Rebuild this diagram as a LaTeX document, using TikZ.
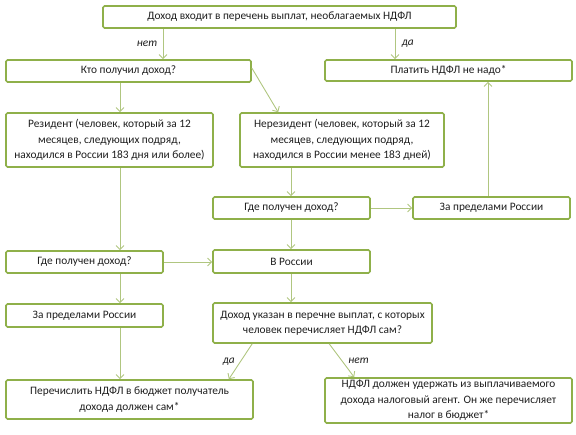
\documentclass[tikz,border=0pt]{standalone}
\usepackage{fontspec}
\setmainfont{Carlito}
\usetikzlibrary{arrows.meta}
\definecolor{boxgreen}{RGB}{143,176,74}
\definecolor{arrgreen}{RGB}{176,198,128}
\definecolor{txtgray}{RGB}{30,30,30}
\begin{document}
\begin{tikzpicture}[x=1bp,y=-1bp,>={Straight Barb[length=4bp,width=8bp]},
  box/.style={draw=boxgreen,line width=1.6bp,rounded corners=1.5bp,inner sep=0pt,
    align=center,text=txtgray,font=\fontsize{11.4}{15.5}\selectfont},
  arr/.style={->,draw=arrgreen,line width=0.9bp},
  lbl/.style={font=\fontsize{11.4}{13}\selectfont\itshape,text=txtgray}]
  \useasboundingbox (0,0) rectangle (576,435);
  % columns of the vertical connectors
  \coordinate (colA) at (120,0);
  \coordinate (colB) at (163,0);
  \coordinate (colC) at (291,0);
  \coordinate (colD) at (395,0);
  \coordinate (colE) at (488,0);
  % boxes
  \node[box,minimum width=353bp,minimum height=22bp] (top) at (279.5,17) {Доход входит в перечень выплат, необлагаемых НДФЛ};
  \node[box,minimum width=245bp,minimum height=22bp] (who) at (128.5,71) {Кто получил доход?};
  \node[box,minimum width=247bp,minimum height=21bp] (nopay) at (448.5,70.5) {Платить НДФЛ не надо*};
  \node[box,minimum width=207bp,minimum height=54bp] (res) at (109.5,140) {Резидент (человек, который за 12\\месяцев, следующих подряд,\\находился в России 183 дня или более)};
  \node[box,minimum width=204bp,minimum height=54bp] (nonres) at (342,140) {Нерезидент (человек, который за 12\\месяцев, следующих подряд,\\находился в России менее 183 дней)};
  \node[box,minimum width=157bp,minimum height=22bp] (where2) at (291.5,208) {Где получен доход?};
  \node[box,minimum width=157bp,minimum height=22bp] (abroad2) at (491.5,208) {За пределами России};
  \node[box,minimum width=157bp,minimum height=22bp] (where1) at (84.5,262) {Где получен доход?};
  \node[box,minimum width=157bp,minimum height=23bp] (inrus) at (291.5,261.5) {В России};
  \node[box,minimum width=157bp,minimum height=23bp] (abroad1) at (84.5,315.5) {За пределами России};
  \node[box,minimum width=219bp,minimum height=40bp] (list) at (322.5,323) {Доход указан в перечне выплат, с которых\\человек перечисляет НДФЛ сам?};
  \node[box,minimum width=247bp,minimum height=39bp] (self) at (129.5,399.5) {Перечислить НДФЛ в бюджет получатель\\дохода должен сам*};
  \node[box,minimum width=247bp,minimum height=45bp] (agent) at (448.5,400.5) {НДФЛ должен удержать из выплачиваемого\\дохода налоговый агент. Он же перечисляет\\налог в бюджет*};
  % connectors
  \draw[arr] (top.south -| colB) -- node[lbl,left=2bp] {нет} (who.north -| colB);
  \draw[arr] (top.south -| colD) -- node[lbl,right=3bp] {да} (nopay.north -| colD);
  \draw[arr] (who.south -| colA) -- (res.north -| colA);
  \draw[arr] ([yshift=3bp]who.east) -- ([xshift=39bp]nonres.north west);
  \draw[arr] (nonres.south -| colC) -- (where2.north -| colC);
  \draw[arr] (where2.east) -- (abroad2.west);
  \draw[arr] (abroad2.north -| colE) -- (nopay.south -| colE);
  \draw[arr] (res.south -| colA) -- (where1.north -| colA);
  \draw[arr] (where1.east) -- (where1.east -| inrus.west);
  \draw[arr] (where2.south -| colC) -- (inrus.north -| colC);
  \draw[arr] (where1.south -| colA) -- (abroad1.north -| colA);
  \draw[arr] (inrus.south -| colC) -- (list.north -| colC);
  \draw[arr] (abroad1.south -| colA) -- (self.north -| colA);
  \draw[arr] ([xshift=40bp]list.south west) -- node[lbl,left=2bp] {да} ([xshift=-25bp]self.north east);
  \draw[arr] ([xshift=117bp]list.south west) -- node[lbl,right=3bp] {нет} ([xshift=30bp]agent.north west);
\end{tikzpicture}
\end{document}
